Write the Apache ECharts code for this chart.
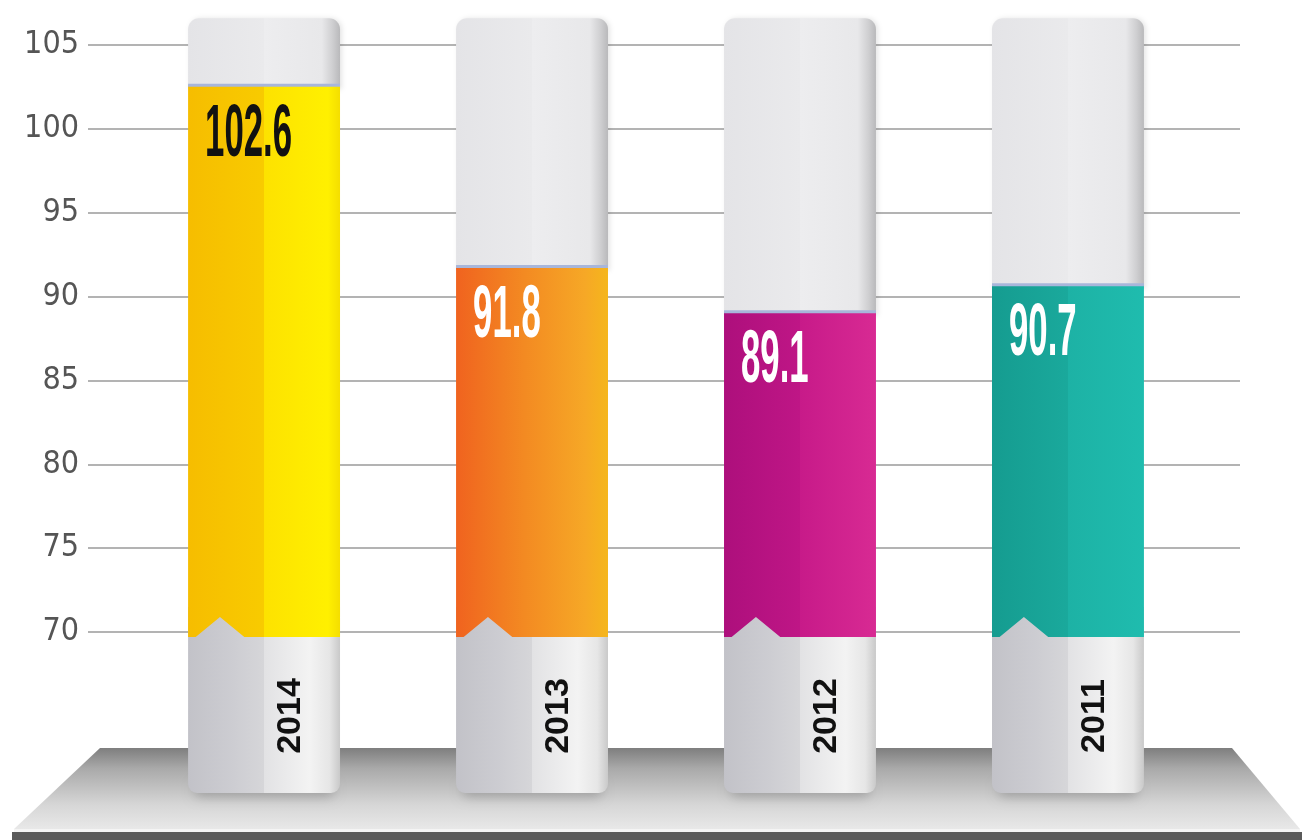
<!DOCTYPE html>
<html>
<head>
<meta charset="utf-8">
<title>2011–2014</title>
<script src="https://cdn.jsdelivr.net/npm/echarts@6/dist/echarts.min.js"></script>
<style>
  html, body { margin: 0; padding: 0; background: #ffffff; }
  #chart { width: 1308px; height: 840px; }
</style>
</head>
<body>
<div id="chart"></div>
<script>
// Yearly values, one tube per year
const years = ['2014', '2013', '2012', '2011'];
const values = [102.6, 91.8, 89.1, 90.7];
const axisMin = 70;
const axisMax = 105;
const axisStep = 5;

// Fill colours for each tube (left -> right shading) and label colours
const tubeFills = [
  [[0, '#f6bd00'], [0.5, '#f8cb00'], [0.5, '#fde200'], [0.92, '#fff000'], [1, '#f4de00']],
  [[0, '#f0631f'], [0.45, '#f38a22'], [0.85, '#f6a826'], [1, '#f5b61c']],
  [[0, '#ad0f7c'], [0.5, '#bf1686'], [0.5, '#c71a89'], [1, '#d82a93']],
  [[0, '#159c90'], [0.5, '#1aa99c'], [0.5, '#1db2a5'], [1, '#1fbcae']]
];
const labelColors = ['#111111', '#ffffff', '#ffffff', '#ffffff'];

function hGrad(stops) {
  return new echarts.graphic.LinearGradient(0, 0, 1, 0,
    stops.map(s => ({ offset: s[0], color: s[1] })));
}

function renderTube(params, api) {
  const i = api.value(0);
  const v = api.value(1);
  const top = api.coord([i, v]);
  const y70 = api.coord([i, axisMin])[1];
  const y105 = api.coord([i, axisMax])[1];
  const unit = (y70 - y105) / (axisMax - axisMin);
  const bw = api.size([1, 0])[0] * 0.567;
  const left = top[0] - bw / 2;
  const right = top[0] + bw / 2;
  const capTop = y105 - 1.6 * unit;
  const colBot = y70 + 5;
  const baseBot = y70 + 161;

  // soft shadow where the tube meets the stage
  const footShadow = {
    type: 'rect',
    shape: { x: left + 6, y: baseBot - 14, width: bw - 12, height: 14, r: 6 },
    style: {
      fill: 'rgba(60,60,60,0.45)',
      shadowColor: 'rgba(0,0,0,0.45)', shadowBlur: 12, shadowOffsetY: 4
    }
  };

  // empty upper part of the tube
  const cap = {
    type: 'rect',
    shape: { x: left, y: capTop, width: bw, height: top[1] - capTop + 4, r: [11, 11, 0, 0] },
    style: {
      fill: hGrad([[0, '#e4e4e7'], [0.5, '#eaeaec'], [0.5, '#ededef'], [0.88, '#e8e8ea'], [0.95, '#cfcfd1'], [1, '#b9b9bb']]),
      shadowColor: 'rgba(0,0,0,0.10)', shadowBlur: 5, shadowOffsetX: 2
    }
  };

  // silver foot of the tube carrying the year
  const base = {
    type: 'rect',
    shape: { x: left, y: colBot - 30, width: bw, height: baseBot - colBot + 30, r: [0, 0, 9, 9] },
    style: {
      fill: hGrad([[0, '#c2c2c8'], [0.3, '#cdcdd2'], [0.5, '#d6d6d9'], [0.5, '#e2e2e4'], [0.8, '#f3f3f3'], [0.93, '#e6e6e6'], [1, '#c9c9c9']])
    }
  };

  // coloured value part with the small notch at its foot
  const fill = {
    type: 'polygon',
    shape: {
      points: [
        [left, top[1]], [right, top[1]], [right, colBot],
        [left + bw * 0.37, colBot], [left + bw * 0.21, colBot - 20],
        [left + bw * 0.05, colBot], [left, colBot]
      ]
    },
    style: { fill: hGrad(tubeFills[i]) }
  };

  const rim = {
    type: 'rect',
    shape: { x: left, y: top[1] - 1.5, width: bw, height: 3 },
    style: { fill: '#a8b6da' }
  };

  const valueText = {
    type: 'text',
    x: left + 17,
    y: top[1] + 50,
    scaleX: 0.47,
    originX: 0,
    originY: 0,
    style: {
      x: 0,
      y: 0,
      text: String(v),
      fill: labelColors[i],
      font: 'bold 74px "Liberation Sans", Arial, sans-serif',
      textAlign: 'left',
      textVerticalAlign: 'middle'
    }
  };

  const yearText = {
    type: 'text',
    x: top[0] + 27,
    y: y70 + 84,
    rotation: Math.PI / 2,
    originX: 0,
    originY: 0,
    style: {
      x: 0,
      y: 0,
      text: years[i],
      fill: '#111111',
      font: 'bold 34px "Liberation Sans", Arial, sans-serif',
      textAlign: 'center',
      textVerticalAlign: 'middle'
    }
  };

  return { type: 'group', children: [footShadow, cap, base, fill, rim, valueText, yearText] };
}

const chart = echarts.init(document.getElementById('chart'), null, { renderer: 'canvas' });

chart.setOption({
  animation: false,
  backgroundColor: '#ffffff',
  grid: { left: 88, right: 68, top: 45, bottom: 208, containLabel: false },
  xAxis: {
    type: 'value',
    min: -0.657,
    max: 3.642,
    show: false
  },
  yAxis: {
    type: 'value',
    min: axisMin,
    max: axisMax,
    interval: axisStep,
    axisLine: { show: false },
    axisTick: { show: false },
    axisLabel: {
      margin: 9,
      color: '#555555',
      fontSize: 32,
      fontFamily: '"DejaVu Sans Condensed", "Liberation Sans", sans-serif'
    },
    splitLine: { lineStyle: { color: '#9a9a9a', width: 1.5 } }
  },
  graphic: [
    {
      // stage the tubes stand on
      type: 'polygon',
      z: 0,
      shape: { points: [[100, 748], [1232, 748], [1300, 829], [14, 829]] },
      style: {
        fill: new echarts.graphic.LinearGradient(0, 0, 0, 1, [
          { offset: 0, color: '#7e7e7e' },
          { offset: 0.25, color: '#a9a9a9' },
          { offset: 0.7, color: '#d6d6d6' },
          { offset: 1, color: '#e8e8e8' }
        ])
      }
    },
    {
      type: 'rect',
      z: 0,
      shape: { x: 14, y: 829, width: 1286, height: 3 },
      style: { fill: '#f4f4f4' }
    },
    {
      type: 'rect',
      z: 0,
      shape: { x: 12, y: 832, width: 1290, height: 8 },
      style: { fill: '#5a5a5a' }
    }
  ],
  series: [{
    type: 'custom',
    z: 5,
    clip: false,
    renderItem: renderTube,
    encode: { x: 0, y: 1 },
    data: values.map((v, i) => [i, v])
  }]
});
</script>
</body>
</html>
